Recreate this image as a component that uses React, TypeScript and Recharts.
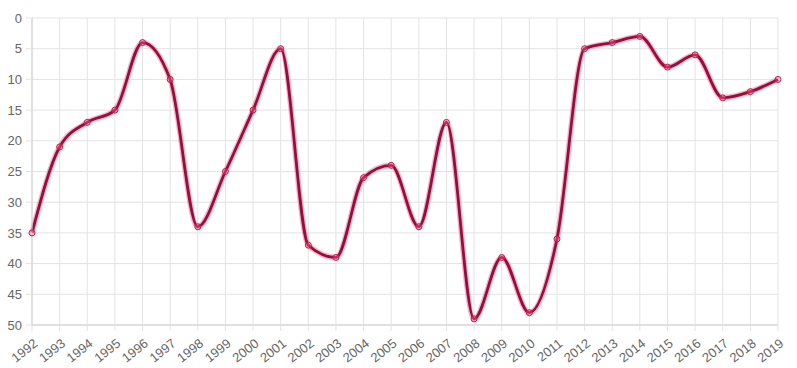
import { LineChart, Line, XAxis, YAxis, CartesianGrid } from 'recharts';

const YEARS = [
    '1992', '1993', '1994', '1995', '1996', '1997', '1998', '1999', '2000', '2001',
    '2002', '2003', '2004', '2005', '2006', '2007', '2008', '2009', '2010', '2011',
    '2012', '2013', '2014', '2015', '2016', '2017', '2018', '2019',
];

const RANKS = [
    35, 21, 17, 15, 4, 10, 34, 25, 15, 5,
    37, 39, 26, 24, 34, 17, 49, 39, 48, 36,
    5, 4, 3, 8, 6, 13, 12, 10,
];

const Y_TICKS = [0, 5, 10, 15, 20, 25, 30, 35, 40, 45, 50];

const data = YEARS.map((year, i) => ({ year, rank: RANKS[i] }));

const FONT = '"Liberation Sans", Arial, sans-serif';

// eslint-disable-next-line @typescript-eslint/no-explicit-any
const XTick = ({ x, y, payload }: any) => (
    <g transform={`translate(${x + 1},${y + 5})`}>
        <text
            textAnchor="end"
            fill="#666"
            fontSize={13}
            fontFamily={FONT}
            transform="rotate(-38)"
            dy={9}
        >
            {payload.value}
        </text>
    </g>
);

export default function App() {
    return (
        <div style={{ position: 'absolute', left: 0, top: 0, background: '#fff' }}>
            <LineChart
                width={797}
                height={368}
                data={data}
                margin={{ top: 18, right: 19, left: 0, bottom: 0 }}
            >
                <CartesianGrid stroke="#e3e3e3" />
                <XAxis
                    dataKey="year"
                    interval={0}
                    height={43}
                    tick={<XTick />}
                    tickSize={6}
                    tickLine={{ stroke: '#e3e3e3' }}
                    axisLine={{ stroke: '#cfcfcf' }}
                />
                <YAxis
                    reversed
                    domain={[0, 50]}
                    ticks={Y_TICKS}
                    interval={0}
                    width={32}
                    tickSize={6}
                    tickMargin={4}
                    tick={{ fill: '#666', fontSize: 13, fontFamily: FONT }}
                    tickLine={{ stroke: '#e3e3e3' }}
                    axisLine={{ stroke: '#cfcfcf' }}
                />
                <Line
                    type="monotone"
                    dataKey="rank"
                    stroke="#f06a90"
                    strokeOpacity={0.5}
                    strokeWidth={5.5}
                    dot={false}
                    activeDot={false}
                    isAnimationActive={false}
                />
                <Line
                    type="monotone"
                    dataKey="rank"
                    stroke="#960f3c"
                    strokeWidth={2.8}
                    dot={{ r: 3, stroke: '#c8184c', strokeWidth: 1, fill: 'rgba(240,120,150,0.35)' }}
                    activeDot={false}
                    isAnimationActive={false}
                />
            </LineChart>
        </div>
    );
}
